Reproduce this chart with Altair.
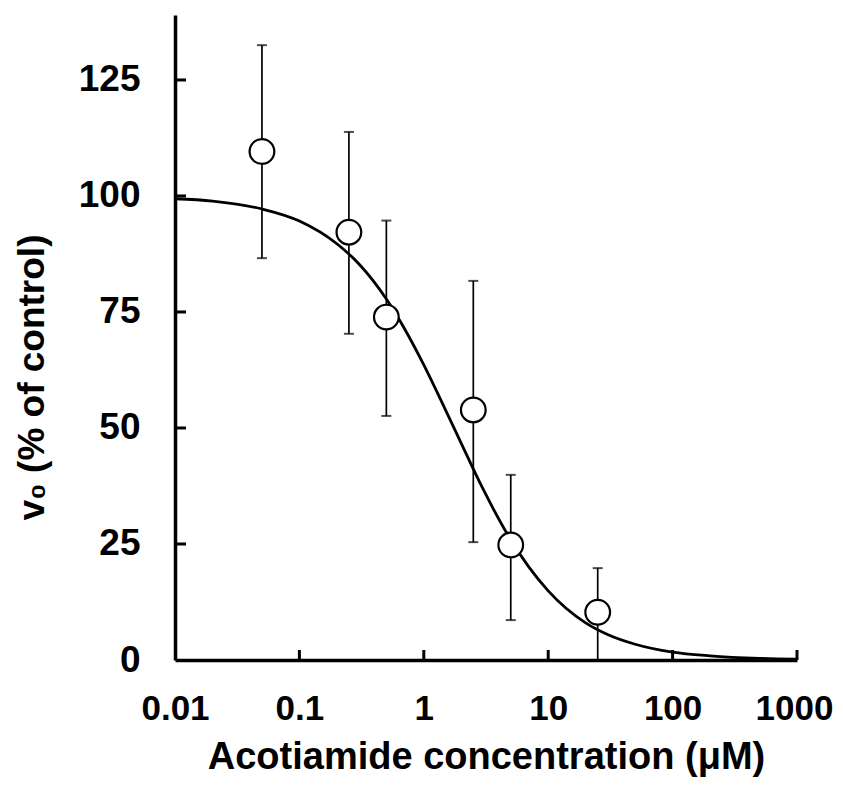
import altair as alt
import pandas as pd

# Measured points (concentration in µM, v0 % of control, SD bounds)
conc = [0.05, 0.25, 0.5, 2.5, 5, 25]
v0 = [109.6, 92.2, 73.9, 53.9, 24.8, 10.3]
err_low = [86.6, 70.3, 52.6, 25.4, 8.6, 0.0]
err_high = [132.5, 113.8, 94.7, 81.7, 39.9, 19.8]

# Fitted curve
curve_x = [0.01, 0.02, 0.05, 0.1, 0.2, 0.3, 0.5, 0.7, 1, 1.5, 2, 3, 5, 7, 10,
           20, 30, 50, 100, 200, 500, 1000]
curve_y = [99.4, 98.9, 97.2, 94.6, 89.7, 85.4, 77.8, 71.4, 63.6, 53.8, 46.7,
           36.8, 25.9, 20.0, 14.9, 8.0, 5.5, 3.4, 1.7, 0.9, 0.35, 0.17]

x_ticks = [0.01, 0.1, 1, 10, 100, 1000]
y_ticks = [0, 25, 50, 75, 100, 125]

W, H = 622, 645
FONT = "Liberation Sans"

pts = pd.DataFrame({"x": conc, "y": v0, "lo": err_low, "hi": err_high})
cur = pd.DataFrame({"x": curve_x, "y": curve_y})
xt = pd.DataFrame({"x": x_ticks[1:]})
yt = pd.DataFrame({"y": y_ticks[1:]})

xscale = alt.Scale(type="log", domain=[0.01, 1000], nice=False)
yscale = alt.Scale(domain=[0, 139], nice=False, zero=False)

xaxis = alt.Axis(values=x_ticks, format="~g", ticks=False, grid=False,
                 domainColor="black", domainWidth=3.5,
                 labelFont=FONT, labelFontSize=35, labelFontWeight="bold",
                 labelColor="black", labelPadding=59, labelBaseline="alphabetic",
                 labelFlush=False, labelOverlap=False,
                 labelOffset=alt.condition("datum.value == 1000",
                                           alt.value(-3), alt.value(0)),
                 title="Acotiamide concentration (μM)", titleFont=FONT,
                 titleFontSize=38, titleFontWeight="bold", titleColor="black",
                 titleY=108, titleBaseline="alphabetic")
yaxis = alt.Axis(values=y_ticks, ticks=False, grid=False,
                 domainColor="black", domainWidth=3.5,
                 labelFont=FONT, labelFontSize=37, labelFontWeight="bold",
                 labelColor="black", labelPadding=35, labelFlush=False,
                 title="v₀ (% of control)", titleFont=FONT,
                 titleFontSize=37, titleFontWeight="bold", titleColor="black",
                 titleX=-132, titleY=362, titleBaseline="alphabetic",
                 titleAnchor="middle")

curve = alt.Chart(cur).mark_line(color="black", strokeWidth=2.8,
                                 interpolate="monotone").encode(
    x=alt.X("x:Q", scale=xscale, axis=xaxis),
    y=alt.Y("y:Q", scale=yscale, axis=yaxis),
)

bars = alt.Chart(pts).mark_rule(color="black", strokeWidth=1.7).encode(
    x=alt.X("x:Q", scale=xscale), y=alt.Y("lo:Q", scale=yscale), y2="hi:Q")
cap_hi = alt.Chart(pts).mark_tick(color="black", orient="horizontal",
                                  size=10, thickness=2).encode(
    x=alt.X("x:Q", scale=xscale), y=alt.Y("hi:Q", scale=yscale))
cap_lo = alt.Chart(pts).mark_tick(color="black", orient="horizontal",
                                  size=10, thickness=2).encode(
    x=alt.X("x:Q", scale=xscale), y=alt.Y("lo:Q", scale=yscale))

dots = alt.Chart(pts).mark_point(shape="circle", filled=True, fill="white",
                                 stroke="black", strokeWidth=2.2, size=610,
                                 opacity=1).encode(
    x=alt.X("x:Q", scale=xscale), y=alt.Y("y:Q", scale=yscale))

xtick_marks = alt.Chart(xt).mark_rule(color="black", strokeWidth=3).encode(
    x=alt.X("x:Q", scale=xscale), y=alt.value(H), y2=alt.value(H - 10))
ytick_marks = alt.Chart(yt).mark_rule(color="black", strokeWidth=3).encode(
    y=alt.Y("y:Q", scale=yscale), x=alt.value(0), x2=alt.value(11))

chart = alt.layer(curve, bars, cap_hi, cap_lo, dots, xtick_marks, ytick_marks).properties(
    width=W, height=H,
    background="white",
    autosize=alt.AutoSizeParams(type="none"),
    padding={"left": 167, "top": 7, "right": 38, "bottom": 117},
).configure_view(stroke="transparent", strokeWidth=0)

chart.save("out.html", embed_options={"renderer": "svg", "actions": False})
